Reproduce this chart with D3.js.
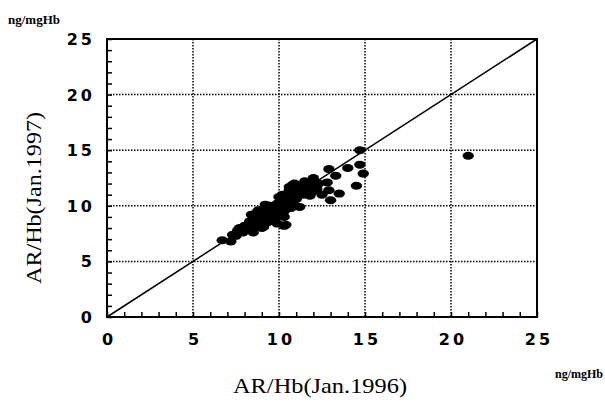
<!DOCTYPE html>
<html>
<head>
<meta charset="utf-8">
<script src="https://cdn.jsdelivr.net/npm/d3@7"></script>
<style>
  body { margin: 0; background: #fff; }
  svg { display: block; }
</style>
</head>
<body>
<div class="chart"></div>
<script>
// AR/Hb, Jan.1996 (x) vs Jan.1997 (y), ng/mgHb
const ar1996 = [
  14.7, 12.9, 14.0, 14.7, 14.9, 14.5, 13.3, 12.0, 11.8, 12.8,
  12.9, 12.5, 13.5, 13.0, 11.8, 11.2, 10.8, 10.6, 10.4, 10.1,
  11.2, 10.7, 10.3, 10.3, 9.7, 9.2, 8.9, 8.6, 8.7, 9.3,
  9.7, 9.9, 9.1, 8.5, 7.7, 7.3, 7.2, 6.7, 10.6, 10.9,
  10.2, 10.4, 21.0, 8.3, 8.5, 8.8, 9.0, 9.2, 9.4, 9.5,
  9.6, 9.8, 9.9, 10.0, 10.1, 10.2, 10.4, 10.5, 10.6, 10.8,
  11.0, 10.3, 9.7, 9.3, 8.9, 8.6, 8.1, 7.9, 7.5, 7.6,
  8.0, 9.1, 9.5, 9.9, 10.1, 10.4, 10.7, 11.0, 11.4, 11.6,
  11.9, 12.2, 12.3, 11.5, 10.9, 10.2, 9.7, 8.7, 8.4, 9.2,
  9.0, 10.0, 9.4, 8.8, 11.3
];
const ar1997 = [
  15.0, 13.3, 13.4, 13.7, 12.9, 11.8, 12.7, 12.5, 11.9, 12.1,
  11.4, 11.0, 11.1, 10.5, 10.9, 11.6, 11.9, 11.4, 11.0, 10.6,
  9.9, 9.8, 9.0, 8.2, 9.9, 9.6, 9.5, 9.0, 8.4, 8.7,
  9.0, 8.4, 8.1, 7.6, 8.0, 7.4, 6.8, 6.9, 11.7, 11.0,
  9.8, 8.3, 14.5, 8.6, 8.9, 8.8, 9.2, 8.9, 9.1, 8.7,
  9.4, 9.0, 9.6, 9.3, 9.8, 10.1, 10.3, 9.9, 10.5, 10.2,
  10.6, 9.5, 8.6, 8.5, 8.3, 8.1, 7.9, 7.6, 7.3, 7.8,
  8.2, 9.7, 10.0, 10.2, 10.6, 10.9, 11.2, 11.3, 11.0, 11.6,
  11.2, 11.5, 12.0, 12.2, 12.0, 11.0, 9.8, 9.4, 9.2, 10.1,
  8.0, 10.8, 9.9, 9.6, 11.8
];
const majorTicks = [0, 5, 10, 15, 20, 25];
const minorTicks = d3.range(0, 26, 1);

const width = 605, height = 403;
const margin = { left: 107, right: 68, top: 39, bottom: 86 };
const W = width - margin.left - margin.right;
const H = height - margin.top - margin.bottom;

const svg = d3.select('.chart')
  .append('svg')
  .attr('width', width)
  .attr('height', height);

const x = d3.scaleLinear().domain([0, 25]).range([0, W]);
const y = d3.scaleLinear().domain([0, 25]).range([H, 0]);

const g = svg.append('g')
  .attr('transform', `translate(${margin.left},${margin.top})`);

// dotted grid at majors
g.append('g')
  .selectAll('line.vg')
  .data(majorTicks.slice(1, -1))
  .enter().append('line')
  .attr('x1', d => x(d)).attr('x2', d => x(d))
  .attr('y1', 0).attr('y2', H)
  .attr('stroke', '#000').attr('stroke-width', 1.5)
  .attr('stroke-dasharray', '1.5,1.5');

g.append('g')
  .selectAll('line.hg')
  .data(majorTicks.slice(1, -1))
  .enter().append('line')
  .attr('y1', d => y(d)).attr('y2', d => y(d))
  .attr('x1', 0).attr('x2', W)
  .attr('stroke', '#000').attr('stroke-width', 1.5)
  .attr('stroke-dasharray', '1.5,1.5');

// inner minor ticks
const xAxis = d3.axisBottom(x).tickValues(minorTicks).tickSize(-5).tickFormat('');
const yAxis = d3.axisLeft(y).tickValues(minorTicks).tickSize(-5).tickFormat('');

g.append('g').attr('transform', `translate(0,${H})`).call(xAxis)
  .call(a => a.select('.domain').remove())
  .selectAll('line').attr('stroke-width', 1.5);
g.append('g').call(yAxis)
  .call(a => a.select('.domain').remove())
  .selectAll('line').attr('stroke-width', 1.5);

// frame
g.append('rect')
  .attr('width', W).attr('height', H)
  .attr('fill', 'none').attr('stroke', '#000').attr('stroke-width', 2);

// identity line
g.append('line')
  .attr('x1', x(0)).attr('y1', y(0))
  .attr('x2', x(25)).attr('y2', y(25))
  .attr('stroke', '#000').attr('stroke-width', 1.5);

// points
g.append('g')
  .selectAll('ellipse')
  .data(ar1996.map((v, i) => [v, ar1997[i]]))
  .enter().append('ellipse')
  .attr('cx', d => x(d[0]))
  .attr('cy', d => y(d[1]))
  .attr('rx', 5.7).attr('ry', 4)
  .attr('fill', '#000');

// tick labels
const tickFont = '"DejaVu Sans", sans-serif';
g.append('g').selectAll('text')
  .data(majorTicks)
  .enter().append('text')
  .attr('x', d => x(d) + 2)
  .attr('y', H + 28)
  .attr('text-anchor', 'middle')
  .attr('font-family', tickFont)
  .attr('font-size', 16)
  .attr('font-weight', 'bold')
  .attr('letter-spacing', 3)
  .text(d => d);

g.append('g').selectAll('text')
  .data(majorTicks)
  .enter().append('text')
  .attr('x', -12)
  .attr('y', d => y(d) + 6)
  .attr('text-anchor', 'end')
  .attr('font-family', tickFont)
  .attr('font-size', 16)
  .attr('font-weight', 'bold')
  .attr('letter-spacing', 3)
  .text(d => d);

// axis titles
const serif = '"Liberation Serif", "Times New Roman", serif';
svg.append('text')
  .attr('x', 320).attr('y', 393)
  .attr('text-anchor', 'middle')
  .attr('font-family', serif)
  .attr('font-size', 21)
  .attr('textLength', 174)
  .attr('lengthAdjust', 'spacingAndGlyphs')
  .text('AR/Hb(Jan.1996)');

svg.append('text')
  .attr('transform', 'translate(41,198) rotate(-90)')
  .attr('text-anchor', 'middle')
  .attr('font-family', serif)
  .attr('font-size', 21)
  .attr('textLength', 172)
  .attr('lengthAdjust', 'spacingAndGlyphs')
  .text('AR/Hb(Jan.1997)');

svg.append('text')
  .attr('x', 8).attr('y', 24)
  .attr('font-family', serif)
  .attr('font-size', 13)
  .attr('font-weight', 'bold')
  .text('ng/mgHb');

svg.append('text')
  .attr('x', 555).attr('y', 378)
  .attr('font-family', serif)
  .attr('font-size', 12)
  .attr('font-weight', 'bold')
  .text('ng/mgHb');
</script>
</body>
</html>
